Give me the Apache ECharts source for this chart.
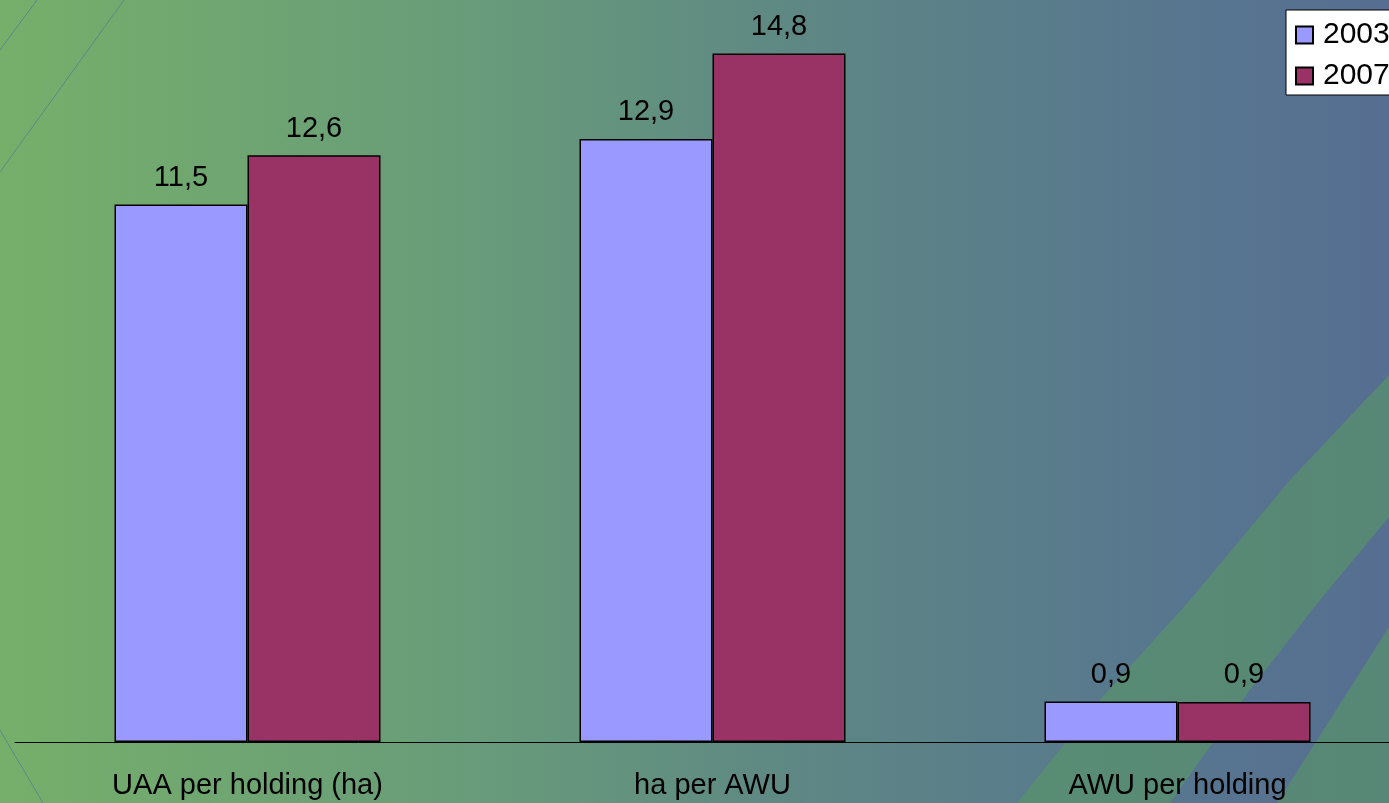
<!DOCTYPE html>
<html>
<head>
<meta charset="utf-8">
<style>
html,body{margin:0;padding:0;overflow:hidden;}
#chart{width:1389px;height:803px;}
</style>
<script src="https://cdn.jsdelivr.net/npm/echarts@6/dist/echarts.min.js"></script>
</head>
<body>
<div id="chart"></div>
<script>
var categories = ['UAA per holding (ha)', 'ha per AWU', 'AWU per holding'];
var seriesNames = ['2003', '2007'];
var values2003 = [11.53, 12.94, 0.87];
var values2007 = [12.59, 14.77, 0.86];

var FONT = "'Liberation Sans', Arial, sans-serif";
var chart = echarts.init(document.getElementById('chart'));

function fmt(p) { return (Math.round(p.value * 10) / 10).toFixed(1).replace('.', ','); }

var option = {
  animation: false,
  graphic: [
    { type: 'rect', z: -100, silent: true,
      shape: { x: 0, y: 0, width: 1389, height: 803 },
      style: { fill: new echarts.graphic.LinearGradient(0, 0, 1, 0, [
        { offset: 0, color: '#76AF6A' },
        { offset: 0.35, color: '#679B7A' },
        { offset: 0.6, color: '#5D8585' },
        { offset: 0.85, color: '#57768F' },
        { offset: 1, color: '#566E91' }
      ]) } },
    { type: 'polygon', z: -90, silent: true,
      shape: { points: [[1017, 803], [1100, 700], [1190, 600], [1290, 480], [1389, 375], [1389, 517], [1320, 600], [1250, 690], [1170, 803]] },
      style: { fill: 'rgba(88,152,100,0.6)' } },
    { type: 'polygon', z: -90, silent: true,
      shape: { points: [[1277, 803], [1389, 627], [1389, 803]] },
      style: { fill: 'rgba(88,152,100,0.6)' } },
    { type: 'line', z: -80, silent: true,
      shape: { x1: 0, y1: 50, x2: 37, y2: 0 },
      style: { stroke: 'rgba(80,130,140,0.8)', lineWidth: 1 } },
    { type: 'line', z: -80, silent: true,
      shape: { x1: 0, y1: 172, x2: 124, y2: 0 },
      style: { stroke: 'rgba(80,130,140,0.8)', lineWidth: 1 } },
    { type: 'line', z: -80, silent: true,
      shape: { x1: 0, y1: 730, x2: 43, y2: 803 },
      style: { stroke: 'rgba(80,130,140,0.8)', lineWidth: 1 } }
  ],
  legend: {
    orient: 'vertical',
    left: 1286, top: 10,
    padding: [10, 60, 4, 9],
    itemGap: 11,
    itemWidth: 17, itemHeight: 17,
    icon: 'rect',
    backgroundColor: '#FFFFFF',
    borderColor: '#000000', borderWidth: 1, borderRadius: 0,
    textStyle: { fontFamily: FONT, fontSize: 30, color: '#000', padding: [0, 0, 0, 5] },
    data: seriesNames
  },
  grid: { left: 15, top: 0, width: 1395, height: 742, containLabel: false, outerBoundsMode: 'none' },
  xAxis: {
    type: 'category',
    data: categories,
    axisLine: { show: true, lineStyle: { color: '#000', width: 1 } },
    axisTick: { show: false },
    axisLabel: { fontFamily: FONT, fontSize: 29, color: '#000', margin: 29, interval: 0 },
    splitLine: { show: false }
  },
  yAxis: {
    type: 'value', min: 0, max: 15.92, show: false,
    splitLine: { show: false }
  },
  series: [
    { name: seriesNames[0], type: 'bar', data: values2003, barWidth: 133, barGap: '0%',
      itemStyle: { color: '#9999FF', borderColor: '#000', borderWidth: 1.5 },
      label: { show: true, position: 'top', distance: 12, formatter: fmt,
        fontFamily: FONT, fontSize: 29, color: '#000' } },
    { name: seriesNames[1], type: 'bar', data: values2007, barWidth: 133, barGap: '0%',
      itemStyle: { color: '#993366', borderColor: '#000', borderWidth: 1.5 },
      label: { show: true, position: 'top', distance: 12, formatter: fmt,
        fontFamily: FONT, fontSize: 29, color: '#000' } }
  ]
};
chart.setOption(option);
</script>
</body>
</html>
